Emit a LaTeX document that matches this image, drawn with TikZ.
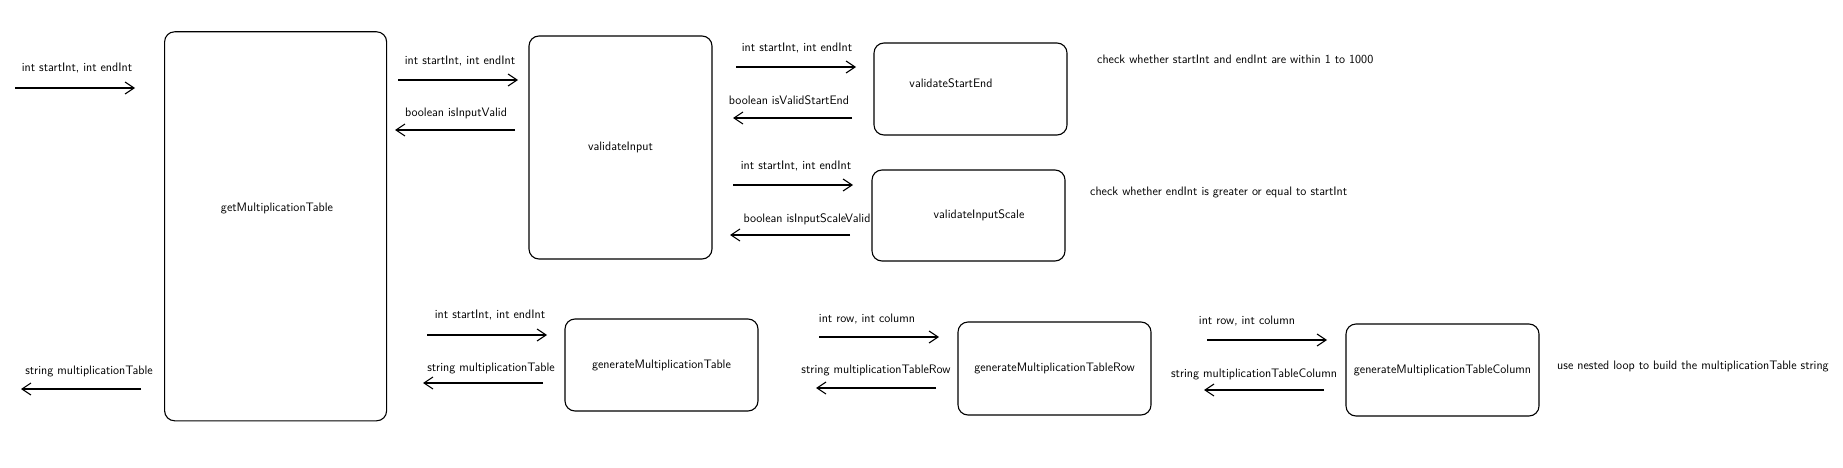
\documentclass[tikz,border=0pt]{standalone}
\usepackage{tikz}
\usetikzlibrary{arrows.meta}

\tikzset{
  fnbox/.style={draw,rounded corners=10pt,line width=1.1pt,inner sep=0pt},
  arr/.style={line width=1.1pt,-{Straight Barb[length=9pt,width=12pt]}},
  txt/.style={font=\sffamily\fontsize{12.3}{14}\selectfont,inner sep=0pt}
}

\begin{document}
\begin{tikzpicture}[x=1pt,y=-1pt,every node/.append style={txt}]
\useasboundingbox (0,0) rectangle (1843,468);
% function boxes
\node[fnbox,minimum width=222pt,minimum height=389pt] (getmt) at (275.6,226.3) {};
\node (getmttxt) at (277,208) {getMultiplicationTable};
\node[fnbox,minimum width=183pt,minimum height=223pt] (valinput) at (620.5,147.5) {validateInput};
\node[fnbox,minimum width=193pt,minimum height=92pt] (valse) at (970.5,89) {};
\node (valsetxt) at (951,83) {validateStartEnd};
\node[fnbox,minimum width=193pt,minimum height=91pt] (valscale) at (968.5,215.5) {};
\node (valscaletxt) at (979,215) {validateInputScale};
\node[fnbox,minimum width=193pt,minimum height=92pt] (genmt) at (661.5,365) {generateMultiplicationTable};
\node[fnbox,minimum width=193pt,minimum height=93pt] (genrow) at (1054.5,368.5) {generateMultiplicationTableRow};
\node[fnbox,minimum width=193pt,minimum height=92pt] (gencol) at (1442.5,370) {generateMultiplicationTableColumn};

% arrow ends
\coordinate (ins) at (15,88);    \coordinate (ine) at (135,88);
\coordinate (outs) at (141,389); \coordinate (oute) at (21,389);
\coordinate (vis) at (398,80);   \coordinate (vie) at (518,80);
\coordinate (vrs) at (515,130);  \coordinate (vre) at (395,130);
\coordinate (ses) at (736,67);   \coordinate (see) at (856,67);
\coordinate (srs) at (852,118);  \coordinate (sre) at (733,118);
\coordinate (scs) at (733,185);  \coordinate (sce) at (853,185);
\coordinate (sbs) at (850,235);  \coordinate (sbe) at (730,235);
\coordinate (gms) at (427,335);  \coordinate (gme) at (547,335);
\coordinate (gbs) at (543,383);  \coordinate (gbe) at (423,383);
\coordinate (rws) at (819,337);  \coordinate (rwe) at (939,337);
\coordinate (rbs) at (936,388);  \coordinate (rbe) at (816,388);
\coordinate (cls) at (1207,340); \coordinate (cle) at (1327,340);
\coordinate (cbs) at (1324,390); \coordinate (cbe) at (1204,390);

\draw[arr] (ins) -- (ine);
\draw[arr] (outs) -- (oute);
\draw[arr] (vis) -- (vie);
\draw[arr] (vrs) -- (vre);
\draw[arr] (ses) -- (see);
\draw[arr] (srs) -- (sre);
\draw[arr] (scs) -- (sce);
\draw[arr] (sbs) -- (sbe);
\draw[arr] (gms) -- (gme);
\draw[arr] (gbs) -- (gbe);
\draw[arr] (rws) -- (rwe);
\draw[arr] (rbs) -- (rbe);
\draw[arr] (cls) -- (cle);
\draw[arr] (cbs) -- (cbe);

% parameter and return labels
\node (inlbl) at (77,68) {int startInt, int endInt};
\node (outlbl) at (89,371) {string multiplicationTable};
\node (vilbl) at (460,61) {int startInt, int endInt};
\node (vrlbl) at (456,113) {boolean isInputValid};
\node (selbl) at (797,48) {int startInt, int endInt};
\node (srlbl) at (789,100) {boolean isValidStartEnd};
\node (sclbl) at (796,166) {int startInt, int endInt};
\node (sblbl) at (807,219) {boolean isInputScaleValid};
\node (gmlbl) at (490,315) {int startInt, int endInt};
\node (gblbl) at (491,368) {string multiplicationTable};
\node (rwlbl) at (867,319) {int row, int column};
\node (rblbl) at (876,370) {string multiplicationTableRow};
\node (cllbl) at (1247,321) {int row, int column};
\node (cblbl) at (1254,374) {string multiplicationTableColumn};

% notes
\node[anchor=west] (senote) at (1097,59) {check whether startInt and endInt are within 1 to 1000};
\node[anchor=west] (scnote) at (1090,192) {check whether endInt is greater or equal to startInt};
\node[anchor=west] (colnote) at (1557,366) {use nested loop to build the multiplicationTable string};
\end{tikzpicture}
\end{document}
